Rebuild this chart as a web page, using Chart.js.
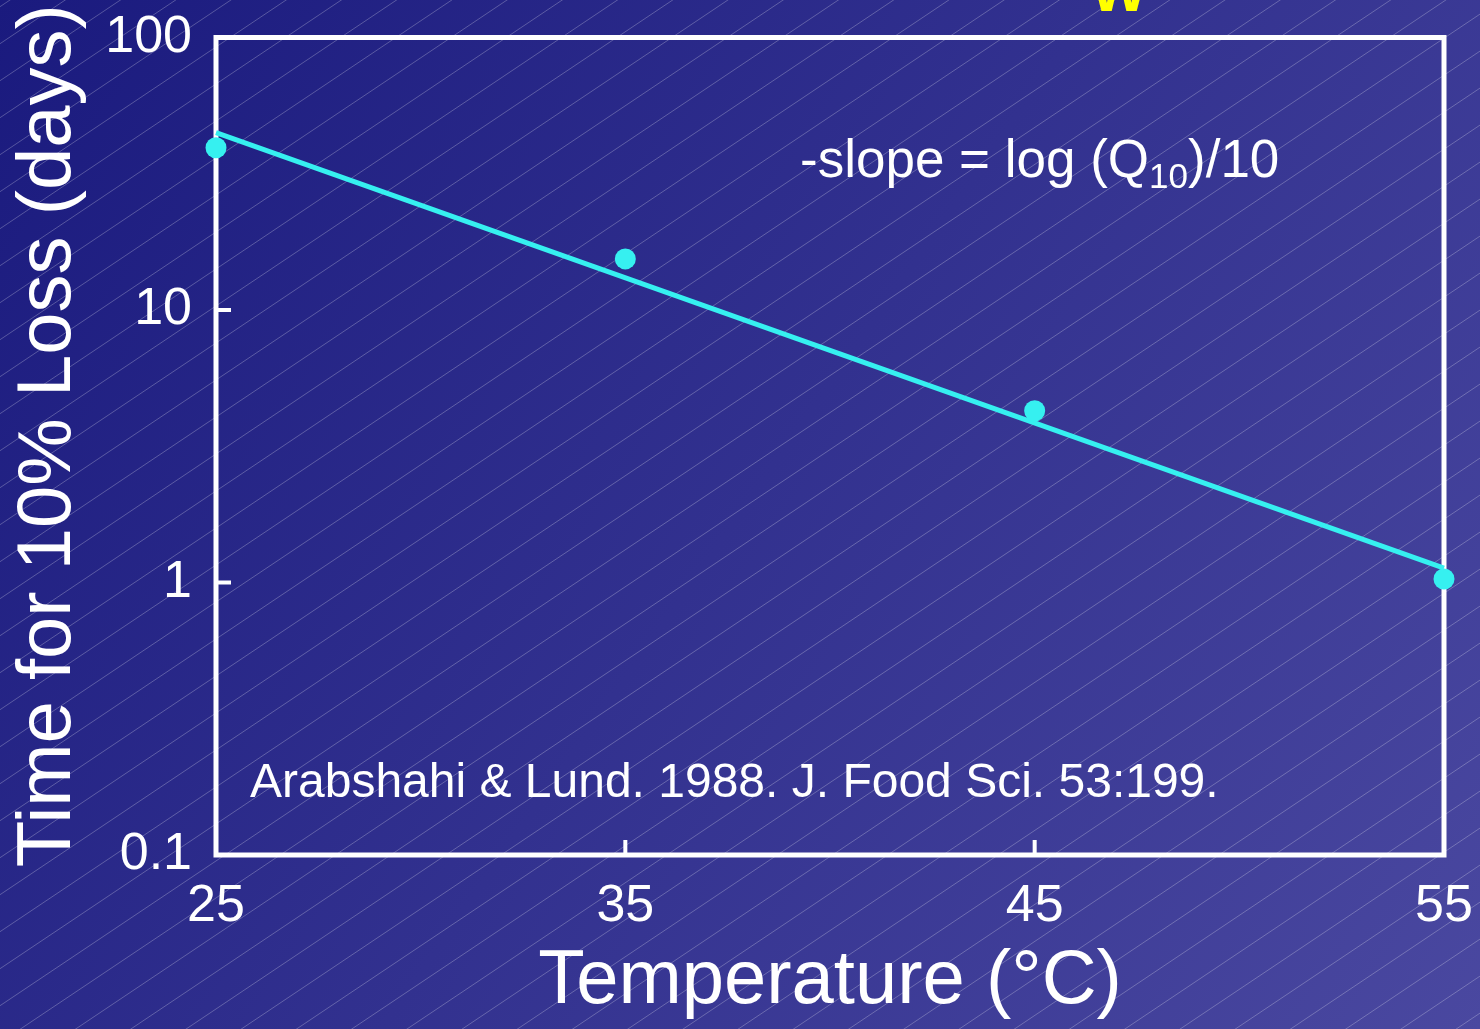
<!DOCTYPE html>
<html>
<head>
<meta charset="utf-8">
<script src="https://cdn.jsdelivr.net/npm/chart.js@4.4.1/dist/chart.umd.min.js"></script>
<style>
  html, body { margin: 0; padding: 0; background: #2a2a8a; }
  canvas { display: block; }
</style>
</head>
<body>
<canvas id="myChart" width="1480" height="1029"></canvas>
<script>
// measured points
const temps = [25, 35, 45, 55];
const days = [39.4, 15.4, 4.27, 1.03];
// fitted line end points
const fitTemps = [25, 55];
const fitDays = [44.8, 1.13];
// axis ticks
const xTicks = [25, 35, 45, 55];
const yTicks = [0.1, 1, 10, 100];
const yTickLabels = ['0.1', '1', '10', '100'];

const FONT = "'Liberation Sans', Arial, Helvetica, sans-serif";
const cyan = '#36f0f0';

// slide background: diagonal gradient with faint hatching
const backdrop = {
  id: 'backdrop',
  beforeDraw(chart) {
    const {ctx, width, height} = chart;
    ctx.save();
    const g = ctx.createLinearGradient(0, 0, width, height);
    g.addColorStop(0, '#1a1a7e');
    g.addColorStop(1, '#4a48a0');
    ctx.fillStyle = g;
    ctx.fillRect(0, 0, width, height);
    ctx.strokeStyle = 'rgba(255,255,255,0.25)';
    ctx.lineWidth = 1;
    const k = 0.67;
    for (let c = 6.7; c < height + width * k; c += 37) {
      ctx.beginPath();
      ctx.moveTo(0, c);
      ctx.lineTo(width, c - width * k);
      ctx.stroke();
    }
    ctx.restore();
  }
};

// white frame + inward ticks
const frame = {
  id: 'frame',
  beforeDatasetsDraw(chart) {
    const {ctx, chartArea: a, scales} = chart;
    ctx.save();
    ctx.strokeStyle = '#ffffff';
    ctx.lineWidth = 5;
    ctx.strokeRect(a.left, a.top, a.right - a.left, a.bottom - a.top);
    ctx.lineWidth = 4;
    ctx.beginPath();
    xTicks.forEach(v => {
      const px = scales.x.getPixelForValue(v);
      ctx.moveTo(px, a.bottom);
      ctx.lineTo(px, a.bottom - 15);
    });
    yTicks.forEach(v => {
      const py = scales.y.getPixelForValue(v);
      ctx.moveTo(a.left, py);
      ctx.lineTo(a.left + 15, py);
    });
    ctx.stroke();
    ctx.restore();
  }
};

// text notes on the plot
const notes = {
  id: 'notes',
  afterDraw(chart) {
    const {ctx} = chart;
    ctx.save();
    ctx.fillStyle = '#ffffff';
    ctx.textBaseline = 'alphabetic';
    ctx.textAlign = 'left';
    let x = 800;
    const y = 177;
    ctx.font = '53px ' + FONT;
    let s = '-slope = log (Q';
    ctx.fillText(s, x, y);
    x += ctx.measureText(s).width;
    ctx.font = '35px ' + FONT;
    ctx.fillText('10', x, y + 11);
    x += ctx.measureText('10').width;
    ctx.font = '53px ' + FONT;
    ctx.fillText(')/10', x, y);

    ctx.font = '48px ' + FONT;
    ctx.fillText('Arabshahi & Lund. 1988. J. Food Sci. 53:199.', 250, 797);

    // clipped slide title fragment
    ctx.fillStyle = '#ffff00';
    ctx.font = 'bold 60px ' + FONT;
    ctx.textAlign = 'center';
    ctx.fillText('W', 1119, 11);
    ctx.restore();
  }
};

// keep the plot box where the slide has it: no extra label overflow padding
const noPad = s => {
  s.paddingTop = 0;
  s.paddingBottom = 0;
  s.paddingLeft = 0;
  s.paddingRight = 0;
};

const ctx = document.getElementById('myChart').getContext('2d');
new Chart(ctx, {
  type: 'scatter',
  data: {
    datasets: [
      {
        label: 'fit',
        data: fitTemps.map((t, i) => ({x: t, y: fitDays[i]})),
        showLine: true,
        borderColor: cyan,
        borderWidth: 5,
        pointRadius: 0,
        clip: false,
        order: 1
      },
      {
        label: 'measured',
        data: temps.map((t, i) => ({x: t, y: days[i]})),
        showLine: false,
        backgroundColor: cyan,
        borderWidth: 0,
        pointRadius: 10.5,
        clip: false,
        order: 0
      }
    ]
  },
  options: {
    responsive: false,
    animation: false,
    devicePixelRatio: 1,
    layout: { padding: { top: 37.5, right: 36, left: 0, bottom: 0 } },
    plugins: { legend: { display: false }, tooltip: { enabled: false } },
    scales: {
      x: {
        type: 'linear',
        min: 25,
        max: 55,
        afterBuildTicks: s => { s.ticks = xTicks.map(v => ({value: v})); },
        afterFit: s => { s.height = 174; noPad(s); },
        grid: { display: false, drawTicks: false },
        border: { display: false },
        ticks: {
          color: '#ffffff',
          font: { family: FONT, size: 52 },
          padding: 20,
          maxRotation: 0,
          autoSkip: false
        },
        title: {
          display: true,
          text: 'Temperature (°C)',
          color: '#ffffff',
          font: { family: FONT, size: 76 },
          padding: { top: 0, bottom: 1 }
        }
      },
      y: {
        type: 'logarithmic',
        min: 0.1,
        max: 100,
        afterBuildTicks: s => { s.ticks = yTicks.map(v => ({value: v})); },
        afterFit: s => { s.width = 216; noPad(s); },
        grid: { display: false, drawTicks: false },
        border: { display: false },
        ticks: {
          color: '#ffffff',
          font: { family: FONT, size: 52 },
          padding: 24,
          autoSkip: false,
          callback: (v, i) => yTickLabels[i]
        },
        title: {
          display: true,
          text: ' Time for 10% Loss (days)',
          color: '#ffffff',
          font: { family: FONT, size: 76 },
          padding: { top: 3, bottom: 0 }
        }
      }
    }
  },
  plugins: [backdrop, frame, notes]
});
</script>
</body>
</html>
